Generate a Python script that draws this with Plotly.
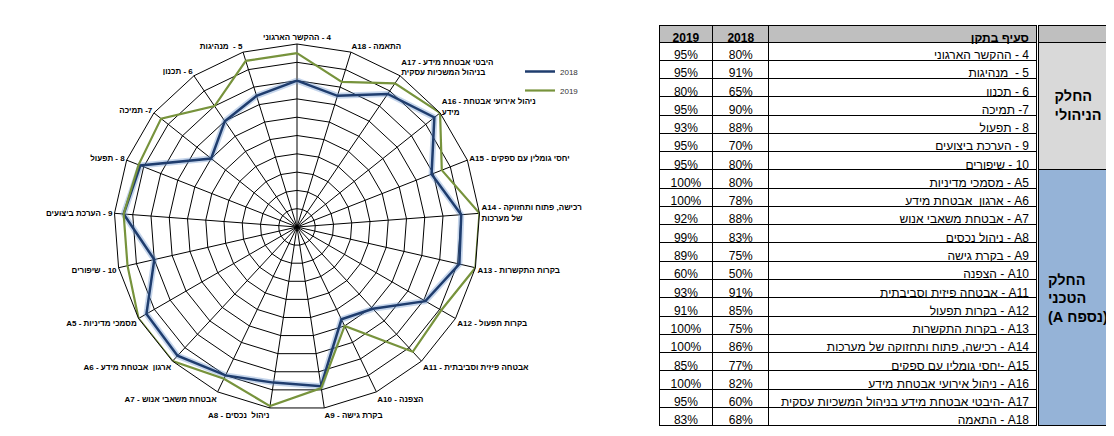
import plotly.graph_objects as go

RLE, PDF = "\u202b", "\u202c"
# an invisible (transparent) line, used to push the merged-cell text down
SPACER = "<span style='color:rgba(0,0,0,0)'>.</span><br>"

def rtl(s):
    return RLE + s + PDF

# ---------------- chart data (read from the radar) ----------------
chart_labels = [
    rtl("4 - ההקשר הארגוני"),
    rtl("5 -  מנהיגות"),
    rtl("6 - תכנון"),
    rtl("7- תמיכה"),
    rtl("8 - תפעול"),
    rtl("9 - הערכת ביצועים"),
    rtl("10 - שיפורים"),
    "A5 - מסמכי מדיניות",
    "A6 - ארגון  אבטחת מידע",
    "A7 - אבטחת משאבי אנוש",
    "A8 - ניהול  נכסים",
    "A9 - בקרת גישה",
    "A10 - הצפנה",
    "A11 - אבטחה פיזית וסביבתית",
    "A12 - בקרות תפעול",
    "A13 - בקרות התקשרות",
    "A14 - רכישה, פתוח ותחזוקה<br>של מערכות",
    "A15 - יחסי גומלין עם ספקים",
    "A16 - ניהול אירועי אבטחת<br>מידע",
    "A17 - היבטי אבטחת מידע<br>בניהול המשכיות עסקית",
    "A18 - התאמה",
]
chart_2018 = [80, 75, 70, 60, 92, 95, 80, 95, 96, 90, 86, 88, 56, 61, 81, 91, 90, 79, 96, 88, 75]
chart_2019 = [95, 95, 80, 95, 93, 95, 95, 100, 100, 92, 99, 89, 60, 93, 91, 100, 100, 85, 100, 95, 83]

# ---------------- table data ----------------
table_sections = [
    "4 - ההקשר הארגוני", "5 -  מנהיגות", "6 - תכנון", "7- תמיכה", "8 - תפעול",
    "9 - הערכת ביצועים", "10 - שיפורים",
    "A5 - מסמכי מדיניות", "A6 - ארגון  אבטחת מידע", "A7 - אבטחת משאבי אנוש",
    "A8 - ניהול נכסים", "A9 - בקרת גישה", "A10 - הצפנה", "A11 - אבטחה פיזית וסביבתית",
    "A12 - בקרות תפעול", "A13 - בקרות התקשרות", "A14 - רכישה, פתוח ותחזוקה של מערכות",
    "A15 -יחסי גומלין עם ספקים", "A16 - ניהול אירועי אבטחת מידע",
    "A17 -היבטי אבטחת מידע בניהול המשכיות עסקית", "A18 - התאמה",
]
table_2018 = [80, 91, 65, 90, 88, 70, 80, 80, 78, 88, 83, 75, 50, 91, 85, 75, 86, 77, 82, 60, 68]
table_2019 = [95, 95, 80, 95, 93, 95, 95, 100, 100, 92, 99, 89, 60, 93, 91, 100, 100, 85, 100, 95, 83]
table_headers = ["2019", "2018", "סעיף בתקן"]
group_mgmt = ["החלק", "הניהולי"]
group_tech = ["החלק", "הטכני", "(נספח A)"]

BLUE = "#1F3D6E"
GREEN = "#77933C"
HEAD_GRAY = "#BFBFBF"
MGMT_GRAY = "#D9D9D9"
TECH_BLUE = "#95B3D7"
FONT = "Arial, Liberation Sans, sans-serif"

fig = go.Figure()

theta_closed = chart_labels + chart_labels[:1]

# soft shadow under the 2018 line
fig.add_trace(go.Scatterpolar(
    r=chart_2018 + chart_2018[:1], theta=theta_closed, mode="lines",
    line=dict(color="rgba(110,150,205,0.40)", width=6),
    showlegend=False, hoverinfo="skip"))
fig.add_trace(go.Scatterpolar(
    r=chart_2018 + chart_2018[:1], theta=theta_closed, mode="lines",
    line=dict(color=BLUE, width=2.5), name="2018"))
fig.add_trace(go.Scatterpolar(
    r=chart_2019 + chart_2019[:1], theta=theta_closed, mode="lines",
    line=dict(color=GREEN, width=2.2), name="2019"))

# ---------------- table ----------------
H = 436
D = 17                  # table domain top (plotly draws a few px lower)
head_h = 17
row_h = 18.27

def ydom(top_px, bottom_px):
    return [1 - bottom_px / H, 1 - top_px / H]

fig.add_trace(go.Table(
    domain=dict(x=[651 / 1114, 1030 / 1114], y=ydom(D, H)),
    columnwidth=[54, 56, 269],
    header=dict(
        values=[table_headers[0], table_headers[1], rtl(table_headers[2])],
        align=["center", "center", "right"],
        fill_color=HEAD_GRAY,
        line=dict(color="black", width=1),
        font=dict(family=FONT, size=12, color="black", weight="bold"),
        height=head_h),
    cells=dict(
        values=[[f"{v}%" for v in table_2019], [f"{v}%" for v in table_2018],
                [rtl(s) for s in table_sections]],
        align=["center", "center", "right"],
        fill_color="white",
        line=dict(color="black", width=1),
        font=dict(family=FONT, size=12, color="black"),
        height=row_h),
))

# group column: header cell + management part (merged cell)
fig.add_trace(go.Table(
    domain=dict(x=[1030 / 1114, 1110 / 1114], y=ydom(D, 175)),
    header=dict(values=[""], fill_color=HEAD_GRAY,
                line=dict(color="black", width=1), height=head_h),
    cells=dict(
        values=[[SPACER * 2 + "<br>".join(group_mgmt)]],
        align="center", fill_color=MGMT_GRAY,
        line=dict(color="black", width=1),
        font=dict(family=FONT, size=14.5, color="black", weight="bold"),
        height=7 * row_h),
))
# group column: technical part (merged cell, drawn as a header-only table)
fig.add_trace(go.Table(
    domain=dict(x=[1030 / 1114, 1110 / 1114], y=ydom(D + head_h + 7 * row_h - 0.5, H)),
    header=dict(
        values=[SPACER * 5 + "<br>".join(rtl(g) for g in group_tech)],
        align="center", fill_color=TECH_BLUE,
        line=dict(color="black", width=1),
        font=dict(family=FONT, size=14.5, color="black", weight="bold"),
        height=14 * row_h),
    cells=dict(values=[]),
))

fig.update_layout(
    width=1114, height=436,
    margin=dict(l=0, r=0, t=0, b=0),
    paper_bgcolor="white",
    showlegend=True,
    legend=dict(x=512 / 1114, y=1 - 49 / 436, xanchor="left", yanchor="top",
                font=dict(family=FONT, size=8, color="#333333"),
                itemwidth=30,
                bgcolor="rgba(0,0,0,0)", tracegroupgap=0),
    polar=dict(
        domain=dict(x=[106 / 1114, 472 / 1114], y=ydom(36, 402)),
        bgcolor="white",
        gridshape="linear",
        radialaxis=dict(range=[0, 100], dtick=10, tick0=0, showticklabels=False, ticks="",
                        showline=False, gridcolor="black", gridwidth=1),
        angularaxis=dict(direction="counterclockwise", rotation=90, ticks="",
                         showline=True, linecolor="black", linewidth=1,
                         gridcolor="black", gridwidth=1,
                         tickfont=dict(family=FONT, size=8, color="black", weight="bold")),
    ),
)

fig.write_html("out.html")
